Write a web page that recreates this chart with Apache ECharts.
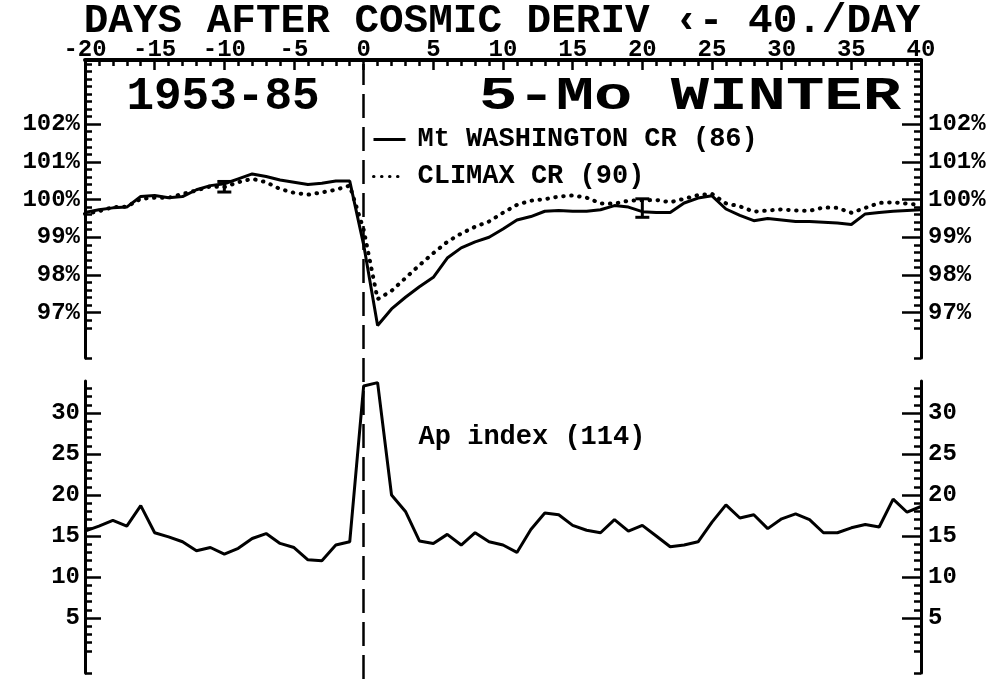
<!DOCTYPE html>
<html>
<head>
<meta charset="utf-8">
<script src="https://cdn.jsdelivr.net/npm/echarts@6/dist/echarts.min.js"></script>
<style>
  html, body { margin: 0; padding: 0; background: #fff; }
  #chart { width: 994px; height: 679px; }
</style>
</head>
<body>
<div id="chart"></div>
<script>
// days after the cosmic ray decrease onset
const days = [-20, -19, -18, -17, -16, -15, -14, -13, -12, -11, -10, -9, -8, -7, -6, -5, -4, -3, -2, -1,
  0, 1, 2, 3, 4, 5, 6, 7, 8, 9, 10, 11, 12, 13, 14, 15, 16, 17, 18, 19, 20,
  21, 22, 23, 24, 25, 26, 27, 28, 29, 30, 31, 32, 33, 34, 35, 36, 37, 38, 39, 40];

// Mt Washington neutron monitor (%)
const mtWashington = [99.66, 99.73, 99.78, 99.80, 100.08, 100.11, 100.05, 100.08, 100.26, 100.37,
  100.42, 100.55, 100.68, 100.61, 100.52, 100.46, 100.40, 100.43, 100.49, 100.49,
  98.80, 96.66, 97.10, 97.41, 97.69, 97.94, 98.45, 98.72, 98.88, 99.00, 99.22,
  99.46, 99.55, 99.69, 99.71, 99.69, 99.69, 99.73, 99.84, 99.80, 99.68,
  99.66, 99.66, 99.91, 100.04, 100.10, 99.75, 99.58, 99.44, 99.50, 99.46,
  99.42, 99.42, 99.40, 99.38, 99.34, 99.62, 99.66, 99.69, 99.71, 99.73];

// Climax neutron monitor (%)
const climax = [99.62, 99.69, 99.80, 99.81, 100.02, 100.05, 100.05, 100.15, 100.24, 100.35,
  100.33, 100.46, 100.55, 100.46, 100.28, 100.18, 100.13, 100.19, 100.26, 100.37,
  99.20, 97.36, 97.58, 97.92, 98.26, 98.58, 98.88, 99.10, 99.28, 99.42, 99.65,
  99.86, 99.97, 100.01, 100.08, 100.11, 100.05, 99.90, 99.89, 99.97, 99.98,
  99.99, 99.93, 100.02, 100.12, 100.15, 99.90, 99.82, 99.68, 99.71, 99.74,
  99.71, 99.70, 99.79, 99.78, 99.65, 99.78, 99.91, 99.93, 99.89, 99.86];

// Ap index
const apIndex = [15.6, 16.2, 16.9, 16.2, 18.7, 15.4, 14.9, 14.3, 13.2, 13.6,
  12.8, 13.5, 14.7, 15.3, 14.1, 13.6, 12.1, 12.0, 13.9, 14.3,
  33.3, 33.7, 20.0, 18.0, 14.4, 14.1, 15.2, 13.9, 15.4, 14.3, 13.9,
  13.0, 15.8, 17.8, 17.6, 16.3, 15.7, 15.4, 17.0, 15.6, 16.3,
  15.0, 13.7, 13.9, 14.3, 16.7, 18.8, 17.2, 17.6, 15.9, 17.1,
  17.7, 17.0, 15.4, 15.4, 16.0, 16.4, 16.1, 19.5, 17.9, 18.6];

// error bars on the Mt Washington curve
const errDays = [-10, 20];
const errLow = [100.2, 99.53];
const errHigh = [100.48, 100.02];

// tick labels
const crLabels = [97, 98, 99, 100, 101, 102];
const apLabels = [5, 10, 15, 20, 25, 30];

const titleText = 'DAYS AFTER COSMIC DERIV \u2039- 40./DAY';
const periodText = '1953-85';
const seasonText = '5-Mo WINTER';
const apText = 'Ap index (114)';
const mtName = 'Mt WASHINGTON CR (86)';
const climaxName = 'CLIMAX CR (90)';

const FONT = '"Liberation Mono", "DejaVu Sans Mono", monospace';
const black = '#000';

// minor tick positions
const crMinor = [95.8];
for (let v = 966; v <= 1036; v += 2) crMinor.push(v / 10);
const apMinor = [-1.7];
for (let v = 1; v <= 33; v++) apMinor.push(v);

const crRange = { min: 95.8, max: 103.7 };
const apRange = { min: -1.7, max: 33.9 };

const tickStyle = { color: black, width: 2.5 };
const labelStyle = { color: black, fontFamily: FONT, fontWeight: 'bold', fontSize: 24 };

// build the minor and major tick axes for one side of a panel
const sideAxes = (grid, position, range, minor, major, fmt, majorLen) => [
  {
    type: 'value', gridIndex: grid, position: position, min: range.min, max: range.max,
    axisLine: { show: true, onZero: false, lineStyle: { color: black, width: 3 } },
    axisTick: { show: true, inside: true, length: 7, customValues: minor, lineStyle: tickStyle },
    axisLabel: { show: false },
    splitLine: { show: false }
  },
  {
    type: 'value', gridIndex: grid, position: position, min: range.min, max: range.max,
    axisLine: { show: false, onZero: false },
    axisTick: { show: true, inside: true, length: majorLen, customValues: major, lineStyle: tickStyle },
    axisLabel: Object.assign({ show: true, customValues: major, formatter: fmt, margin: position === 'left' ? 5 : 7 }, labelStyle),
    splitLine: { show: false }
  }
];

const chart = echarts.init(document.getElementById('chart'));

const option = {
  backgroundColor: '#fff',
  animation: false,
  grid: [
    { left: 85, right: 73, top: 60, height: 298 },
    { left: 85, right: 73, top: 381, height: 292 },
    { left: 85, right: 73, top: 64, bottom: 0 }
  ],
  legend: {
    data: [mtName, climaxName],
    orient: 'vertical',
    left: 372,
    top: 126,
    padding: 0,
    itemWidth: 32,
    itemHeight: 12,
    itemGap: 10,
    itemStyle: { opacity: 0 },
    lineStyle: { width: 3 },
    textStyle: { color: black, fontFamily: FONT, fontWeight: 'bold', fontSize: 27, lineHeight: 27, padding: [0, 0, 0, 7] }
  },
  xAxis: [
    {
      type: 'value', gridIndex: 0, position: 'top', min: -20, max: 40, interval: 1,
      axisLine: { show: true, onZero: false, lineStyle: { color: black, width: 4 } },
      axisTick: { show: true, inside: true, length: 6, lineStyle: tickStyle },
      axisLabel: { show: false },
      splitLine: { show: false }
    },
    {
      type: 'value', gridIndex: 0, position: 'top', min: -20, max: 40, interval: 5,
      axisLine: { show: false, onZero: false },
      axisTick: { show: true, inside: true, length: 10, lineStyle: tickStyle },
      axisLabel: { show: true, margin: -2, fontSize: 24, color: black, fontFamily: FONT, fontWeight: 'bold' },
      splitLine: { show: false }
    },
    { type: 'value', gridIndex: 1, min: -20, max: 40, show: false },
    { type: 'value', gridIndex: 2, min: -20, max: 40, show: false }
  ],
  yAxis: [
    ...sideAxes(0, 'left', crRange, crMinor, crLabels, '{value}%', 16),
    ...sideAxes(0, 'right', crRange, crMinor, crLabels, '{value}%', 19),
    ...sideAxes(1, 'left', apRange, apMinor, apLabels, '{value}', 16),
    ...sideAxes(1, 'right', apRange, apMinor, apLabels, '{value}', 19),
    { type: 'value', gridIndex: 2, min: 0, max: 1, show: false }
  ],
  graphic: [
    { type: 'text', x: 502, y: 22, style: { text: titleText, font: 'bold 41px ' + FONT, fill: black, align: 'center', verticalAlign: 'middle' } },
    { type: 'text', x: 223, y: 97, style: { text: periodText, font: 'bold 46px ' + FONT, fill: black, align: 'center', verticalAlign: 'middle' } },
    { type: 'text', x: 690, y: 97, scaleX: 1.39, style: { text: seasonText, font: 'bold 46px ' + FONT, fill: black, align: 'center', verticalAlign: 'middle' } },
    { type: 'text', x: 532, y: 437, style: { text: apText, font: 'bold 27px ' + FONT, fill: black, align: 'center', verticalAlign: 'middle' } }
  ],
  series: [
    {
      name: mtName, type: 'line', xAxisIndex: 0, yAxisIndex: 0,
      data: days.map((d, i) => [d, mtWashington[i]]),
      symbol: 'none', lineStyle: { color: black, width: 3 }, itemStyle: { color: black }, z: 5
    },
    {
      name: climaxName, type: 'line', xAxisIndex: 0, yAxisIndex: 0,
      data: days.map((d, i) => [d, climax[i]]),
      symbol: 'none', lineStyle: { color: black, width: 4, type: [0.5, 7.5], cap: 'round' }, itemStyle: { color: black }, z: 4
    },
    {
      type: 'custom', xAxisIndex: 0, yAxisIndex: 0,
      data: errDays.map((d, i) => [d, errLow[i], errHigh[i]]),
      renderItem: function (params, api) {
        const lo = api.coord([api.value(0), api.value(1)]);
        const hi = api.coord([api.value(0), api.value(2)]);
        const w = 7;
        const st = { stroke: black, lineWidth: 3 };
        return {
          type: 'group',
          children: [
            { type: 'line', shape: { x1: lo[0], y1: lo[1], x2: hi[0], y2: hi[1] }, style: st },
            { type: 'line', shape: { x1: lo[0] - w, y1: lo[1], x2: lo[0] + w, y2: lo[1] }, style: st },
            { type: 'line', shape: { x1: hi[0] - w, y1: hi[1], x2: hi[0] + w, y2: hi[1] }, style: st }
          ]
        };
      },
      z: 6
    },
    {
      name: 'Ap', type: 'line', xAxisIndex: 2, yAxisIndex: 4,
      data: days.map((d, i) => [d, apIndex[i]]),
      symbol: 'none', lineStyle: { color: black, width: 3 }, z: 5
    },
    {
      type: 'line', xAxisIndex: 3, yAxisIndex: 8, data: [],
      markLine: {
        symbol: 'none', silent: true, label: { show: false },
        lineStyle: { color: black, width: 2.5, type: [24, 9] },
        data: [{ xAxis: 0 }]
      }
    }
  ]
};

chart.setOption(option);
</script>
</body>
</html>
